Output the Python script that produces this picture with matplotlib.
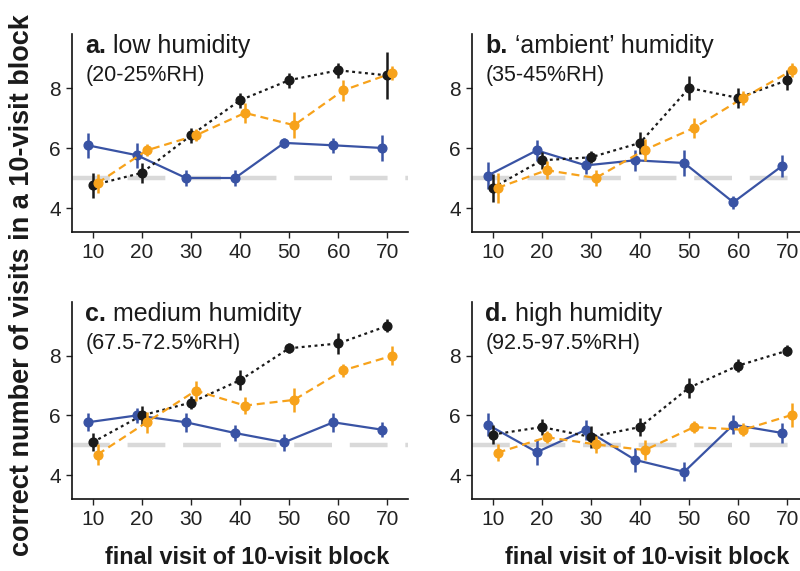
import matplotlib
matplotlib.use("Agg")
import matplotlib.pyplot as plt
import numpy as np

plt.rcParams['font.family'] = ['Liberation Sans', 'DejaVu Sans']

blocks = [10, 20, 30, 40, 50, 60, 70]

panel_titles = ["a.", "b.", "c.", "d."]
panel_names = [" low humidity", " \u2018ambient\u2019 humidity", " medium humidity", " high humidity"]
panel_ranges = ["(20-25%RH)", "(35-45%RH)", "(67.5-72.5%RH)", "(92.5-97.5%RH)"]

# blue series (solid)
blue_mean = [
    [6.09, 5.76, 5.00, 5.00, 6.17, 6.09, 6.00],
    [5.08, 5.92, 5.42, 5.59, 5.50, 4.19, 5.41],
    [5.77, 6.00, 5.77, 5.41, 5.10, 5.77, 5.52],
    [5.69, 4.77, 5.52, 4.51, 4.11, 5.69, 5.41],
]
blue_err = [
    [0.42, 0.42, 0.28, 0.28, 0.17, 0.25, 0.44],
    [0.44, 0.36, 0.30, 0.36, 0.44, 0.22, 0.36],
    [0.30, 0.25, 0.32, 0.28, 0.28, 0.31, 0.25],
    [0.39, 0.44, 0.33, 0.41, 0.32, 0.31, 0.34],
]
# black series (dotted)
black_mean = [
    [4.76, 5.17, 6.42, 7.59, 8.26, 8.59, 8.42],
    [4.67, 5.59, 5.69, 6.17, 8.00, 7.67, 8.26],
    [5.10, 6.00, 6.43, 7.18, 8.25, 8.41, 9.00],
    [5.36, 5.61, 5.28, 5.61, 6.93, 7.67, 8.17],
]
black_err = [
    [0.42, 0.33, 0.25, 0.25, 0.25, 0.25, 0.78],
    [0.46, 0.28, 0.20, 0.36, 0.39, 0.33, 0.33],
    [0.30, 0.33, 0.22, 0.33, 0.17, 0.36, 0.22],
    [0.33, 0.28, 0.36, 0.29, 0.33, 0.22, 0.18],
]
# orange series (dashed)
orange_mean = [
    [4.83, 5.92, 6.42, 7.17, 6.76, 7.92, 8.50],
    [4.67, 5.26, 5.00, 5.94, 6.67, 7.67, 8.59],
    [4.69, 5.77, 6.83, 6.33, 6.52, 7.51, 8.00],
    [4.75, 5.27, 5.03, 4.84, 5.61, 5.52, 6.02],
]
orange_err = [
    [0.32, 0.20, 0.20, 0.33, 0.43, 0.36, 0.22],
    [0.50, 0.30, 0.28, 0.36, 0.33, 0.22, 0.23],
    [0.36, 0.36, 0.33, 0.28, 0.40, 0.21, 0.31],
    [0.28, 0.20, 0.28, 0.34, 0.20, 0.22, 0.40],
]
chance_level = 5

BLUE = '#3953a4'
BLACK = '#1a1a1a'
ORANGE = '#f7a21b'
GREY = '#d9d9d9'

fig = plt.figure(figsize=(8.0, 5.71), dpi=100)

W, H = 800, 571
def pos(l, t, r, b):
    return [l / W, 1 - b / H, (r - l) / W, (b - t) / H]

positions = [pos(72, 34, 408, 232), pos(472, 34, 808, 232),
             pos(72, 302, 408, 499), pos(472, 302, 808, 499)]

x = np.array(blocks, dtype=float)
for i in range(4):
    ax = fig.add_axes(positions[i])
    ax.axhline(chance_level, color=GREY, lw=3.2, dashes=(8.5, 4), zorder=1)
    series = [
        (x - 1, blue_mean[i], blue_err[i], BLUE, None),
        (x, black_mean[i], black_err[i], BLACK, (1.3, 1.6)),
        (x + 1, orange_mean[i], orange_err[i], ORANGE, (3.6, 2.2)),
    ]
    for k, (xx, m, e, c, dsh) in enumerate(series):
        if dsh is None:
            ax.plot(xx, m, color=c, lw=1.6, zorder=2 + k)
        else:
            ax.plot(xx, m, color=c, lw=1.6, dashes=dsh, zorder=2 + k)
        ax.errorbar(xx, m, yerr=e, fmt='o', color=c, ms=6.3, elinewidth=1.8,
                    capsize=0, zorder=3 + k)
    ax.set_xlim(5.8, 74.2)
    ax.set_ylim(3.2, 9.8)
    ax.set_xticks(blocks)
    ax.set_yticks([4, 6, 8])
    for s in ['top', 'right']:
        ax.spines[s].set_visible(False)
    for s in ['left', 'bottom']:
        ax.spines[s].set_linewidth(1.2)
        ax.spines[s].set_color('#111111')
    ax.tick_params(labelsize=15, colors='#222222', length=4, width=1.0, pad=4)
    ax.text(0.04, 0.905, panel_titles[i], transform=ax.transAxes, fontsize=18,
            fontweight='bold', color='#1a1a1a', ha='left', va='baseline')
    t = ax.text(0.04, 0.905, panel_titles[i], transform=ax.transAxes, fontsize=18,
                fontweight='bold', alpha=0)
    fig.canvas.draw()
    bb = t.get_window_extent(renderer=fig.canvas.get_renderer())
    x_end = ax.transAxes.inverted().transform((bb.x1, bb.y0))[0]
    ax.text(x_end, 0.905, panel_names[i], transform=ax.transAxes, fontsize=18,
            color='#1a1a1a', ha='left', va='baseline')
    ax.text(0.04, 0.763, panel_ranges[i], transform=ax.transAxes, fontsize=15.5,
            color='#1a1a1a', ha='left', va='baseline')

fig.text(22 / W, 1 - 285 / H, 'correct number of visits in a 10-visit block',
         rotation=90, ha='center', va='center', fontsize=19.5, fontweight='bold',
         color='#1a1a1a')
fig.text(247 / W, 1 - 557 / H, 'final visit of 10-visit block', ha='center',
         va='center', fontsize=16.8, fontweight='bold', color='#1a1a1a')
fig.text(647 / W, 1 - 557 / H, 'final visit of 10-visit block', ha='center',
         va='center', fontsize=16.8, fontweight='bold', color='#1a1a1a')

fig.savefig('out.png', dpi=100)
